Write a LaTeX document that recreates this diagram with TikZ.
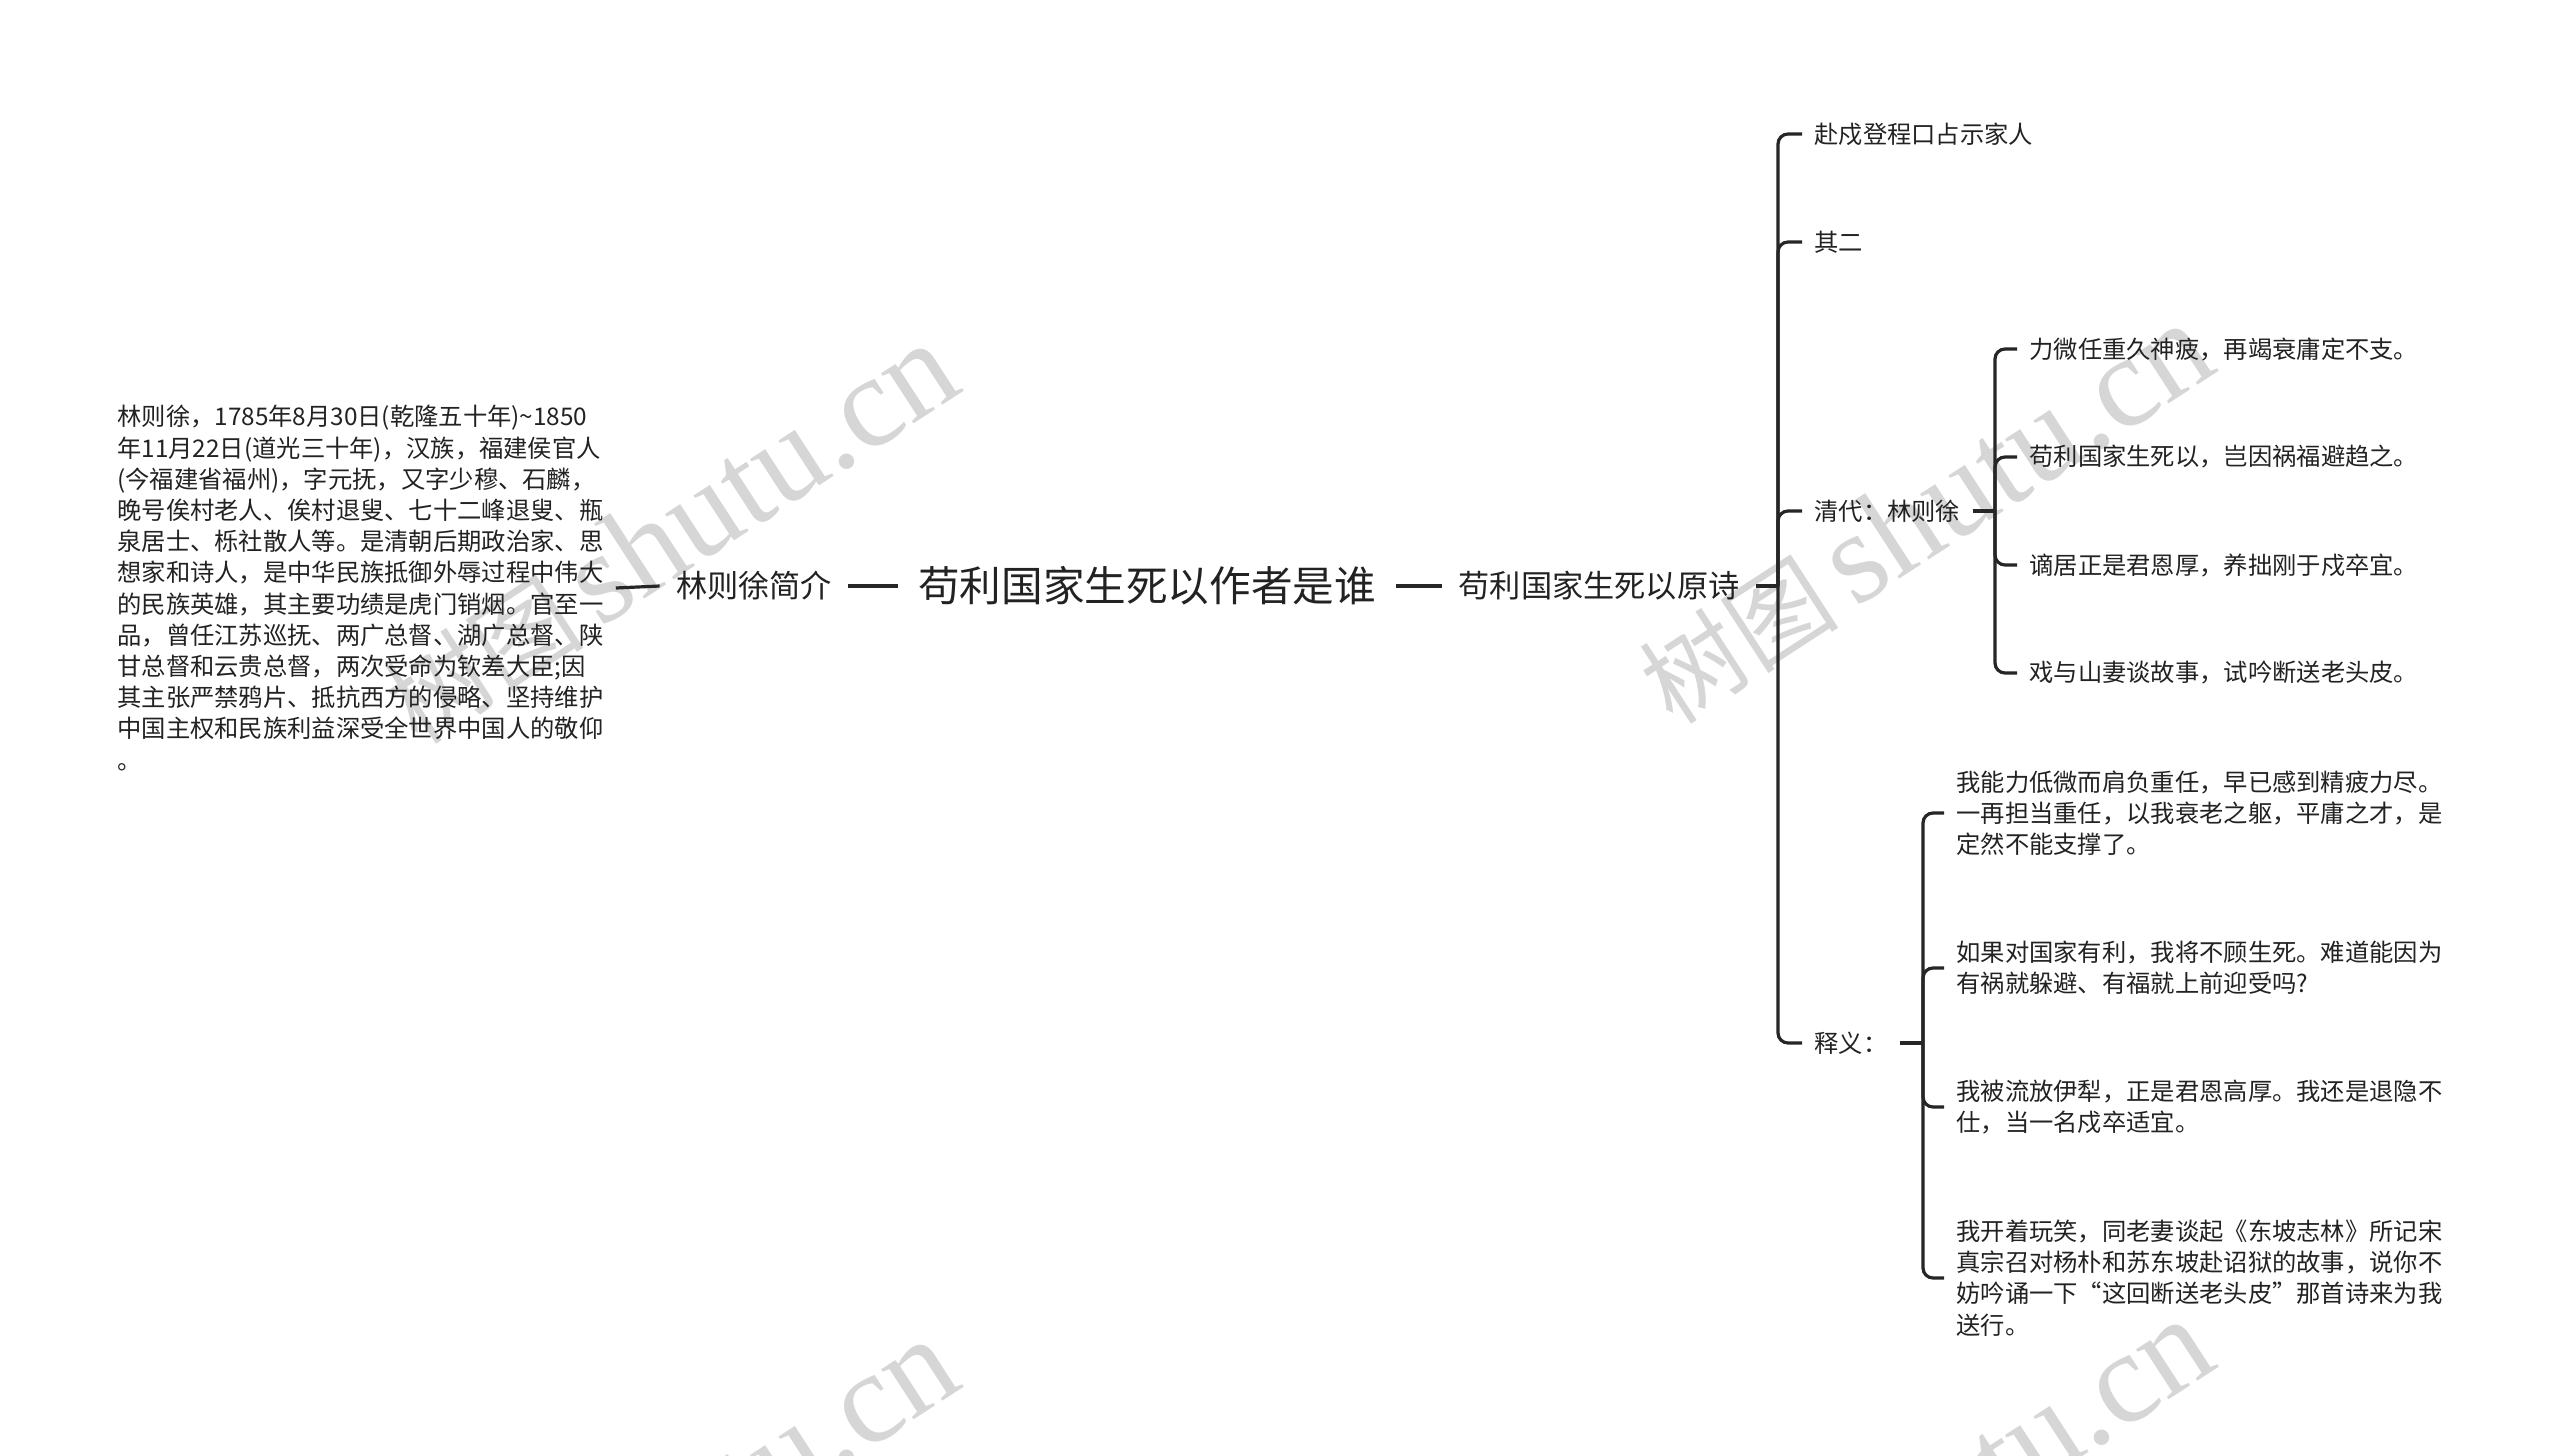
\documentclass[tikz,border=0pt]{standalone}
\usepackage{fontspec}
\setmainfont{Noto Sans CJK SC}
\newfontfamily\wmfont{Liberation Serif}
\usepackage{tikz}
\usetikzlibrary{positioning}
\definecolor{inkline}{HTML}{262626}
\definecolor{inktext}{HTML}{222222}
\definecolor{wmgray}{HTML}{D6D6D6}

\begin{document}
\begin{tikzpicture}[x=0.5pt, y=-0.5pt, inner ysep=2pt, text=inktext,
  topic/.style={font=\fontsize{20.8pt}{25pt}\selectfont, inner xsep=10pt},
  subtopic/.style={font=\fontsize{15.6pt}{19pt}\selectfont, inner xsep=8pt},
  leafnote/.style={font=\fontsize{12.15pt}{15.6pt}\selectfont, inner xsep=6pt, align=left},
  edgeline/.style={draw=inkline, line width=1.6pt},
  forkline/.style={edgeline, rounded corners=5pt},
  wmark/.style={text=wmgray, rotate=33, inner sep=0pt, font=\fontsize{50pt}{54pt}\selectfont}]
  \def\colA{1802} \def\colB{2017} \def\colC{1944}
  \path[use as bounding box, fill=white] (0,0) rectangle (2560,1456);
  \foreach \x/\y in {670/534, 1925/514, 670/1530, 1925/1510}
    \node[wmark] at (\x,\y) {树图\,{\wmfont\fontsize{65pt}{70pt}\selectfont shutu.cn}};

  \node[topic] (main) at (1147,586) {苟利国家生死以作者是谁};
  \node[subtopic] (intro) at (754,586) {林则徐简介};
  \node[subtopic] (poem) at (1599,586) {苟利国家生死以原诗};
  \node[leafnote, anchor=west] (bio) at (105,588) {林则徐，1785年8月30日(乾隆五十年){\char"7E}1850\\
    年11月22日(道光三十年)，汉族，福建侯官人\\
    (今福建省福州)，字元抚，又字少穆、石麟，\\
    晚号俟村老人、俟村退叟、七十二峰退叟、瓶\\
    泉居士、栎社散人等。是清朝后期政治家、思\\
    想家和诗人，是中华民族抵御外辱过程中伟大\\
    的民族英雄，其主要功绩是虎门销烟。官至一\\
    品，曾任江苏巡抚、两广总督、湖广总督、陕\\
    甘总督和云贵总督，两次受命为钦差大臣;因\\
    其主张严禁鸦片、抵抗西方的侵略、坚持维护\\
    中国主权和民族利益深受全世界中国人的敬仰\\
    。};
  \draw[edgeline] (bio.east) -- (intro.west);
  \draw[edgeline] (intro.east) -- (main.west);
  \draw[edgeline] (main.east) -- (poem.west);

  \coordinate (hubA) at (1778,586);
  \draw[edgeline] (poem.east) -- (hubA);
  \foreach \y/\n/\t in {134/r1/赴戍登程口占示家人, 242/r2/其二, 511/r3/清代：林则徐, 1043/r4/释义：} {
    \node[leafnote, anchor=west] (\n) at (\colA,\y) {\t};
    \draw[forkline] (hubA) |- (\n.west);
  }

  \coordinate (hubB) at (1995,511);
  \draw[edgeline] (r3.east) -- (hubB);
  \foreach \y/\n/\t in {349/q1/力微任重久神疲，再竭衰庸定不支。, 457/q2/苟利国家生死以，岂因祸福避趋之。,
      565/q3/谪居正是君恩厚，养拙刚于戍卒宜。, 673/q4/戏与山妻谈故事，试吟断送老头皮。} {
    \node[leafnote, anchor=west] (\n) at (\colB,\y) {\t};
    \draw[forkline] (hubB) |- (\n.west);
  }

  \coordinate (hubC) at (1923,1043);
  \draw[edgeline] (r4.east) -- (hubC);
  \foreach \y/\n/\t in {
      813/s1/{我能力低微而肩负重任，早已感到精疲力尽。\\一再担当重任，以我衰老之躯，平庸之才，是\\定然不能支撑了。},
      968/s2/{如果对国家有利，我将不顾生死。难道能因为\\有祸就躲避、有福就上前迎受吗?},
      1107/s3/{我被流放伊犁，正是君恩高厚。我还是退隐不\\仕，当一名戍卒适宜。},
      1278/s4/{我开着玩笑，同老妻谈起《东坡志林》所记宋\\真宗召对杨朴和苏东坡赴诏狱的故事，说你不\\妨吟诵一下“这回断送老头皮”那首诗来为我\\送行。}} {
    \node[leafnote, anchor=west] (\n) at (\colC,\y) {\t};
    \draw[forkline] (hubC) |- (\n.west);
  }
\end{tikzpicture}
\end{document}
